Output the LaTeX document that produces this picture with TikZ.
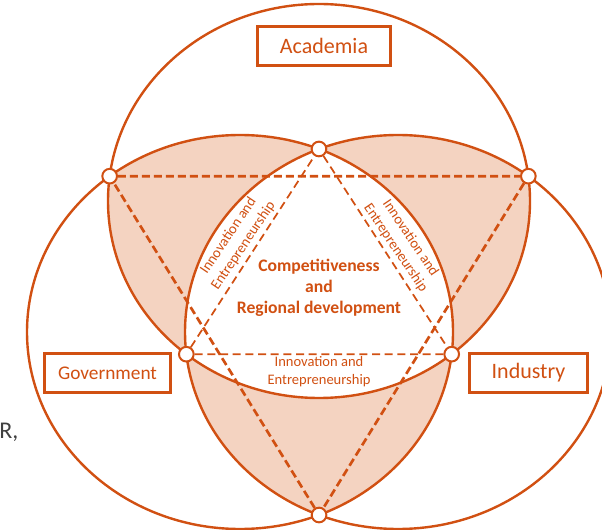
\documentclass[tikz,border=0pt]{standalone}
\usepackage{fontspec}
\setmainfont{Carlito}
\usepackage{tikz}
\usetikzlibrary{intersections}
\definecolor{helixorange}{RGB}{209,80,18}
\definecolor{helixpeach}{RGB}{244,211,193}
\definecolor{slidegray}{RGB}{64,64,64}

\begin{document}
\begin{tikzpicture}[x=0.75pt, y=-0.75pt,
  acadring/.style={insert path={(319,201) circle [x radius=211, y radius=197]}},
  govring/.style={insert path={(240,332) circle [x radius=213, y radius=197]}},
  indring/.style={insert path={(398,332) circle [x radius=213, y radius=197]}},
  helix/.style={draw=helixorange, line width=1.8pt},
  actor/.style={draw=helixorange, line width=2.2pt, fill=white, text=helixorange, minimum height=29pt, inner sep=0pt},
  joint/.style={circle, draw=helixorange, line width=1.5pt, fill=white, minimum size=11pt, inner sep=0pt},
  outerlink/.style={draw=helixorange, line width=2pt, dash pattern=on 6pt off 3pt},
  innerlink/.style={draw=helixorange, line width=1.3pt, dash pattern=on 6pt off 3.5pt},
  flow/.style={text=helixorange, font=\fontsize{10.9}{13.5}\selectfont, align=center}]

\useasboundingbox (0,0) rectangle (602,530);

\begin{scope}
\clip[acadring];
\fill[helixpeach, govring];
\fill[helixpeach, indring];
\end{scope}
\begin{scope}
\clip[govring];
\fill[helixpeach, indring];
\clip[indring];
\fill[white, acadring];
\end{scope}

\draw[helix, name path=acad, acadring];
\draw[helix, name path=gov, govring];
\draw[helix, name path=ind, indring];

\path[name intersections={of=acad and gov, name=ag}];
\path[name intersections={of=acad and ind, name=ai}];
\path[name intersections={of=gov and ind, name=gi}];

\node[joint] (ag1) at (ag-1) {};
\node[joint] (ag2) at (ag-2) {};
\node[joint] (ai1) at (ai-1) {};
\node[joint] (ai2) at (ai-2) {};
\node[joint] (gi1) at (gi-1) {};
\node[joint] (gi2) at (gi-2) {};

\draw[innerlink] (ag1) -- (ai1);
\draw[innerlink] (ai1) -- (gi2);
\draw[innerlink] (gi2) -- (ag1);
\draw[outerlink] (gi1) -- (ag2);
\draw[outerlink] (ag2) -- (ai2);
\draw[outerlink] (ai2) -- (gi1);

\node[actor, minimum width=100pt, font=\fontsize{16.5}{20}\selectfont] (academia) at (324,46) {Academia};
\node[actor, minimum width=95pt, font=\fontsize{14.5}{18}\selectfont] (government) at (107.5,373) {Government};
\node[actor, minimum width=89pt, font=\fontsize{16.5}{20}\selectfont] (industry) at (528.5,373) {Industry};

\node[text=helixorange, font=\bfseries\fontsize{13.2}{15.75}\selectfont, align=center] (core) at (319,288) {Competitiveness\\and\\Regional development};
\node[flow] (flowgi) at (319,372) {Innovation and\\Entrepreneurship};
\node[flow, rotate=56] (flowag) at (236,241) {Innovation and\\Entrepreneurship};
\node[flow, rotate=-56] (flowai) at (403,243) {Innovation and\\Entrepreneurship};

\node[text=slidegray, font=\fontsize{18}{20}\selectfont, anchor=west, inner sep=0pt] (cut) at (-1,432) {R,};
\end{tikzpicture}
\end{document}
